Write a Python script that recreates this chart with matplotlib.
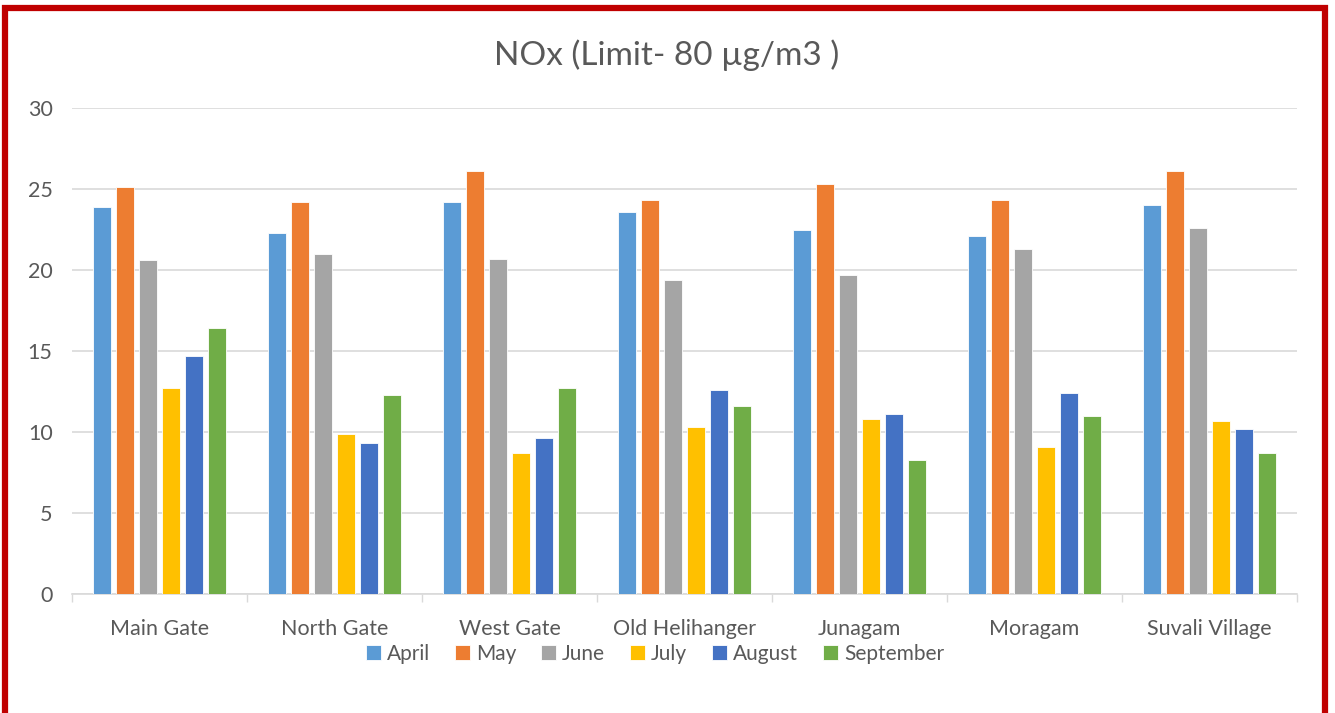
import matplotlib.pyplot as plt
import numpy as np
from matplotlib.patches import Rectangle

plt.rcParams['font.family'] = ['Lato', 'DejaVu Sans']

sites = ['Main Gate', 'North Gate', 'West Gate', 'Old Helihanger', 'Junagam', 'Moragam', 'Suvali Village']
months = ['April', 'May', 'June', 'July', 'August', 'September']
colors = ['#5B9BD5', '#ED7D31', '#A5A5A5', '#FFC000', '#4472C4', '#70AD47']

april = [23.9, 22.3, 24.2, 23.6, 22.5, 22.1, 24.0]
may = [25.1, 24.2, 26.1, 24.3, 25.3, 24.3, 26.1]
june = [20.6, 21.0, 20.7, 19.4, 19.7, 21.3, 22.6]
july = [12.7, 9.9, 8.7, 10.3, 10.8, 9.1, 10.7]
august = [14.7, 9.3, 9.6, 12.6, 11.1, 12.4, 10.2]
september = [16.4, 12.3, 12.7, 11.6, 8.3, 11.0, 8.7]
series = [april, may, june, july, august, september]

fig = plt.figure(figsize=(13.35, 7.13), dpi=100)
ax = fig.add_axes([72 / 1335, 1 - 594 / 713, (1297 - 72) / 1335, (594 - 108) / 713])

x = np.arange(len(sites))
slot = 0.131
for i, vals in enumerate(series):
    ax.bar(x + (i - 2.5) * slot, vals, slot * 0.8, color=colors[i], label=months[i],
           edgecolor='white', linewidth=0.6, zorder=3)

ax.set_xlim(-0.5, len(sites) - 0.5)
ax.set_ylim(0, 30)
ax.set_yticks(range(0, 31, 5))
ax.set_xticks(x)
ax.set_xticklabels(sites)
ax.set_xticks(np.arange(-0.5, len(sites)), minor=True)
ax.tick_params(axis='x', which='major', length=0, pad=18, labelsize=15.5, labelcolor='#595959')
ax.tick_params(axis='x', which='minor', length=6, color='#D9D9D9', width=1)
ax.tick_params(axis='y', length=0, pad=14, labelsize=15.5, labelcolor='#595959')
ax.grid(axis='y', color='#D9D9D9', linewidth=1.2, zorder=0)
for s in ['top', 'right', 'left']:
    ax.spines[s].set_visible(False)
ax.spines['bottom'].set_color('#D9D9D9')
ax.spines['bottom'].set_linewidth(1.2)

fig.text(667 / 1335, 1 - 55 / 713, 'NOx (Limit- 80 µg/m3 )', ha='center', va='center',
         fontsize=24, color='#595959')

fig.legend(loc='center', bbox_to_anchor=(655 / 1335, 1 - 654 / 713), ncol=6, frameon=False,
           fontsize=15, labelcolor='#595959', handlelength=0.7, handleheight=0.7,
           handletextpad=0.3, columnspacing=1.2)

fig.patches.append(Rectangle((5 / 1335, -0.05), 1320 / 1335, 1.05 - 8 / 713,
                             transform=fig.transFigure, fill=False,
                             edgecolor='#C00000', linewidth=4.5))

fig.savefig('out.png', dpi=100)
